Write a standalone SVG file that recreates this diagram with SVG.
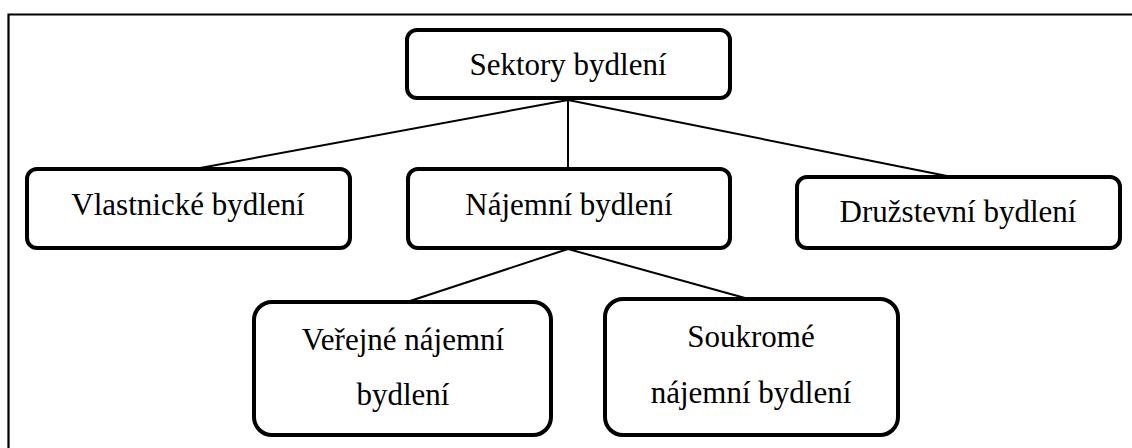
<svg xmlns="http://www.w3.org/2000/svg" width="1132" height="448" viewBox="0 0 1132 448">
<style>
.box{fill:#fff;stroke:#000;stroke-width:4}
.lbl{font-family:"Liberation Serif","Times New Roman",serif;font-size:31px;fill:#000;text-anchor:middle}
.con{stroke:#000;stroke-width:2;fill:none}
</style>
<rect width="1132" height="448" fill="#fff"/>
<path d="M8.5,448 V14.5 H1132" fill="none" stroke="#000" stroke-width="2.2"/>
<g id="connectors">
<line class="con" x1="568" y1="100" x2="200" y2="168"/>
<line class="con" x1="568" y1="100" x2="568" y2="168"/>
<line class="con" x1="568" y1="100" x2="947" y2="176"/>
<line class="con" x1="568" y1="249" x2="410" y2="301"/>
<line class="con" x1="568" y1="249" x2="745" y2="298"/>
</g>
<g id="sektory">
<rect class="box" x="407" y="30" width="323" height="68" rx="10"/>
<text class="lbl" x="568" y="75">Sektory bydlení</text>
</g>
<g id="vlastnicke">
<rect class="box" x="27" y="169" width="323" height="79" rx="10"/>
<text class="lbl" x="188" y="215">Vlastnické bydlení</text>
</g>
<g id="najemni">
<rect class="box" x="408" y="169" width="322" height="79" rx="10"/>
<text class="lbl" x="569" y="215">Nájemní bydlení</text>
</g>
<g id="druzstevni">
<rect class="box" x="797" y="177" width="323" height="71" rx="10"/>
<text class="lbl" x="958" y="222">Družstevní bydlení</text>
</g>
<g id="verejne">
<rect class="box" x="254" y="302" width="297" height="133" rx="18"/>
<text class="lbl" x="403" y="350">Veřejné nájemní</text>
<text class="lbl" x="403" y="405">bydlení</text>
</g>
<g id="soukrome">
<rect class="box" x="605" y="299" width="293" height="136" rx="18"/>
<text class="lbl" x="751" y="347">Soukromé</text>
<text class="lbl" x="751" y="403">nájemní bydlení</text>
</g>
</svg>
